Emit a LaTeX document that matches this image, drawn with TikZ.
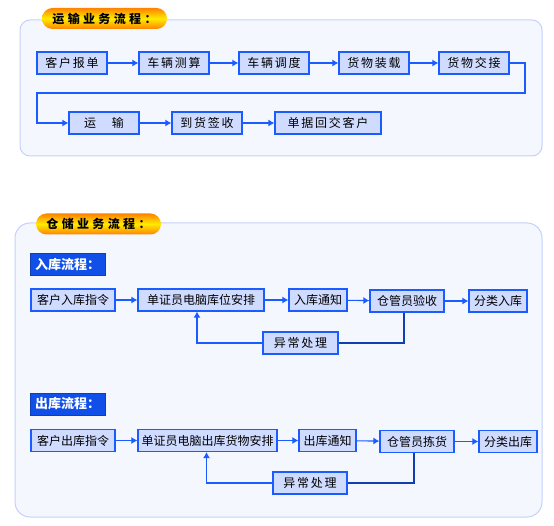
\documentclass[tikz,border=0pt]{standalone}
\usepackage{fontspec}
\usepackage{tikz}
\usetikzlibrary{arrows.meta}
\usetikzlibrary{positioning}
\setmainfont{Noto Sans CJK SC}
\newfontfamily\spaced[LetterSpace=15]{Noto Sans CJK SC}
\newfontfamily\wide[LetterSpace=28]{Noto Sans CJK SC}
\definecolor{mblue}{RGB}{26, 92, 255}
\definecolor{mfill}{RGB}{208, 220, 255}
\definecolor{mpanel}{RGB}{245, 247, 255}
\definecolor{medge}{RGB}{196, 208, 250}
\definecolor{mdark}{RGB}{16, 64, 176}
\definecolor{mlabel}{RGB}{16, 80, 232}
\definecolor{morange}{RGB}{255, 130, 0}
\definecolor{myellow}{RGB}{255, 235, 0}
\tikzset{box/.style = {draw=mblue, fill=mfill, line width=1.2pt, minimum height=22,
                       inner sep=0, font=\fontsize{12}{12}\selectfont}}
\tikzset{flow/.style = {mblue, line width=1.1pt, -{Latex[length=6pt,width=7pt]}}}
\tikzset{link/.style = {mblue, line width=1.1pt}}
\tikzset{panel/.style = {draw=medge, fill=mpanel, line width=1pt}}
\tikzset{badge/.style = {top color=morange, bottom color=morange, middle color=myellow,
                         rounded corners=10.5, minimum height=21, minimum width=125,
                         inner sep=0, font=\wide\bfseries\fontsize{12}{12}\selectfont}}
\tikzset{tag/.style = {draw=mdark, fill=mlabel, text=white, line width=0.8pt,
                       minimum width=75, minimum height=22, inner sep=0,
                       font=\bfseries\fontsize{13}{13}\selectfont}}

\begin{document}
\begin{tikzpicture}[x=1pt, y=-1pt]
  \useasboundingbox (0, 0) rectangle (554, 526);

  % transport
  \draw [panel, rounded corners=10] (20, 20) rectangle (542, 156);
  \node [badge] (tbadge) at (104.5, 18.5) {运输业务流程：};

  \node [box, minimum width=70, font=\spaced\fontsize{12}{12}\selectfont] (a1) at (72, 63) {客户报单};
  \node [box, minimum width=70, font=\spaced\fontsize{12}{12}\selectfont] (a2) at (174, 63) {车辆测算};
  \node [box, minimum width=70, font=\spaced\fontsize{12}{12}\selectfont] (a3) at (274, 63) {车辆调度};
  \node [box, minimum width=70, font=\spaced\fontsize{12}{12}\selectfont] (a4) at (374, 63) {货物装载};
  \node [box, minimum width=70, font=\spaced\fontsize{12}{12}\selectfont] (a5) at (474, 63) {货物交接};

  \node [box, minimum width=70, font=\spaced\fontsize{12}{12}\selectfont] (b1) at (104, 123) {运　输};
  \node [box, minimum width=70, font=\spaced\fontsize{12}{12}\selectfont] (b2) at (207, 123) {到货签收};
  \node [box, minimum width=106, font=\spaced\fontsize{12}{12}\selectfont] (b3) at (328, 123) {单据回交客户};

  \foreach \p/\q in {a1/a2, a2/a3, a3/a4, a4/a5, b1/b2, b2/b3}
    \draw [flow] (\p) -- (\q);

  \coordinate (t1) at (525, 93);
  \coordinate (t2) at (37, 93);
  \draw [flow] (a5.east) -| (t1) -- (t2) |- (b1.west);

  % storage
  \draw [panel, rounded corners=15] (15, 223) rectangle (542, 517);
  \node [badge] (sbadge) at (98.5, 224) {仓储业务流程：};

  \node [tag] (intag) at (67.5, 264.5) {入库流程：};
  \node [box, minimum width=84] (c1) at (73, 300) {客户入库指令};
  \node [box, minimum width=126] (c2) at (201, 300) {单证员电脑库位安排};
  \node [box, minimum width=58] (c3) at (318, 300) {入库通知};
  \node [box, minimum width=74] (c4) at (407, 301) {仓管员验收};
  \node [box, minimum width=58] (c5) at (498, 301) {分类入库};
  \node [box, minimum width=75, font=\spaced\fontsize{12}{12}\selectfont] (c6) at (300.5, 343) {异常处理};

  \foreach \p/\q in {c1/c2, c2/c3, c3/c4, c4/c5}
    \draw [flow] (\p) -- (\q);
  \draw [link, mdark] ([xshift=-3]c4.south) |- (c6.east);
  \draw [flow] (c6.west) -| ([xshift=-4]c2.south);

  \node [tag] (outtag) at (67.5, 404) {出库流程：};
  \node [box, minimum width=84] (d1) at (73, 440.5) {客户出库指令};
  \node [box, minimum width=139] (d2) at (207.5, 440.5) {单证员电脑出库货物安排};
  \node [box, minimum width=57] (d3) at (327.5, 440.5) {出库通知};
  \node [box, minimum width=74] (d4) at (417, 441.5) {仓管员拣货};
  \node [box, minimum width=58] (d5) at (508, 441.5) {分类出库};
  \node [box, minimum width=74, font=\spaced\fontsize{12}{12}\selectfont] (d6) at (310, 483) {异常处理};

  \foreach \p/\q in {d1/d2, d2/d3, d3/d4, d4/d5}
    \draw [flow] (\p) -- (\q);
  \draw [link, mdark] ([xshift=-3]d4.south) |- (d6.east);
  \draw [flow] (d6.west) -| ([xshift=-1]d2.south);
\end{tikzpicture}
\end{document}
